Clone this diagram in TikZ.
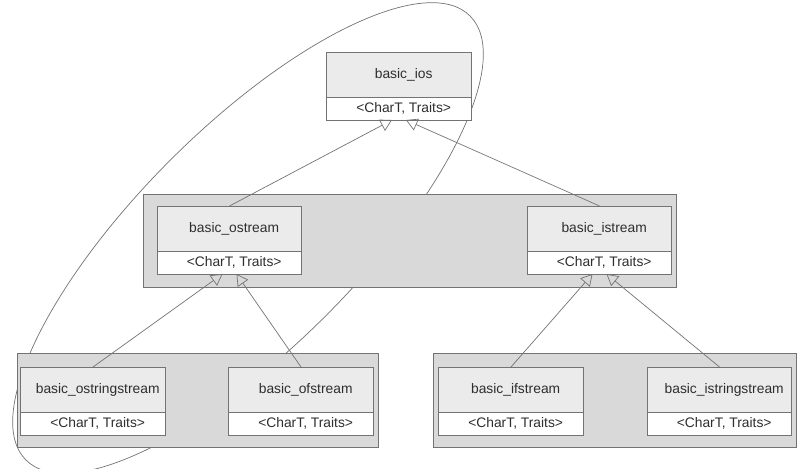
\documentclass[tikz,border=0pt]{standalone}
\usepackage{fontspec}
\setmainfont{Liberation Sans}
\usetikzlibrary{positioning,arrows.meta}
\definecolor{boxfill}{HTML}{EBEBEB}
\definecolor{grpfill}{HTML}{D9D9D9}
\definecolor{edge}{HTML}{737373}
\definecolor{txt}{HTML}{2E2E2E}
\begin{document}
\begin{tikzpicture}[x=0.03cm,y=-0.03cm,
    cls/.style={draw=edge,fill=boxfill,line width=0.6pt,outer sep=0pt,inner sep=0pt,
      minimum width=4.34cm,minimum height=1.35cm,text=txt,
      font=\fontsize{11.8}{14}\selectfont,execute at begin node=\hspace*{8pt}},
    tmpl/.style={cls,fill=white,minimum height=0.69cm},
    grp/.style={draw=edge,fill=grpfill,line width=0.6pt},
    gen/.style={draw=edge,line width=0.6pt,-{Triangle[open,length=0.34cm,width=0.38cm]}}]
  \useasboundingbox (0,0) rectangle (799,468);
  \draw[edge,line width=0.6pt,rotate around={45:(248,238)}] (248,238) ellipse (314 and 110);
  \draw[grp] (143,194) rectangle (676,287);
  \draw[grp] (17,353) rectangle (378,447);
  \draw[grp] (433,353) rectangle (796,447);
  \node[cls] (ios) at (399,74.5) {basic\_ios};
  \node[tmpl,below=0pt of ios] (iost) {<CharT, Traits>};
  \node[cls] (ost) at (229.5,228.5) {basic\_ostream};
  \node[tmpl,below=0pt of ost] (ostt) {<CharT, Traits>};
  \node[cls] (ist) at (599.5,228.5) {basic\_istream};
  \node[tmpl,below=0pt of ist] (istt) {<CharT, Traits>};
  \node[cls] (osst) at (93,389.5) {basic\_ostringstream};
  \node[tmpl,below=0pt of osst] (osstt) {<CharT, Traits>};
  \node[cls] (ofs) at (301,389.5) {basic\_ofstream};
  \node[tmpl,below=0pt of ofs] (ofst) {<CharT, Traits>};
  \node[cls] (ifs) at (511,389.5) {basic\_ifstream};
  \node[tmpl,below=0pt of ifs] (ifst) {<CharT, Traits>};
  \node[cls] (isst) at (719.5,389.5) {basic\_istringstream};
  \node[tmpl,below=0pt of isst] (isstt) {<CharT, Traits>};
  \draw[gen] (ost.north) -- ([xshift=-0.21cm]iost.south);
  \draw[gen] (ist.north) -- ([xshift=0.21cm]iost.south);
  \draw[gen] (osst.north) -- ([xshift=-0.21cm]ostt.south);
  \draw[gen] (ofs.north) -- ([xshift=0.21cm]ostt.south);
  \draw[gen] (ifs.north) -- ([xshift=-0.21cm]istt.south);
  \draw[gen] (isst.north) -- ([xshift=0.21cm]istt.south);
\end{tikzpicture}
\end{document}
